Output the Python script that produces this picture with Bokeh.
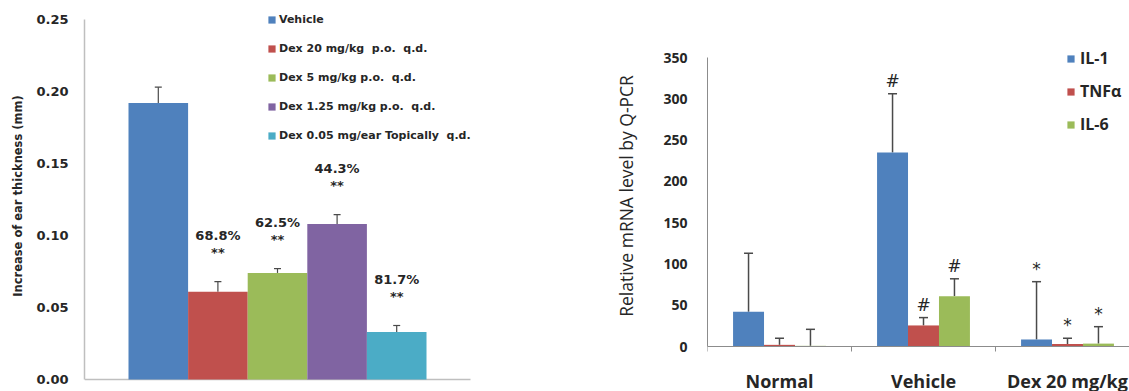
import math
from bokeh.plotting import figure
from bokeh.models import (Range1d, FixedTicker, Legend, LegendItem, Whisker, TeeHead,
                          ColumnDataSource, NumeralTickFormatter, Span, LabelSet)
from bokeh.layouts import row
from bokeh.embed import file_html
from bokeh.resources import INLINE
from bokeh.core.properties import value

# ---------------- data: left panel ----------------
groups = ["Vehicle", "Dex 20 mg/kg  p.o.  q.d.", "Dex 5 mg/kg p.o.  q.d.",
          "Dex 1.25 mg/kg p.o.  q.d.", "Dex 0.05 mg/ear Topically  q.d."]
thickness = [0.192, 0.061, 0.074, 0.108, 0.033]
thickness_err = [0.011, 0.007, 0.003, 0.0065, 0.0045]
pct_labels = ["", "68.8%", "62.5%", "44.3%", "81.7%"]
sig_labels = ["", "**", "**", "**", "**"]
left_ticks = [0.0, 0.05, 0.10, 0.15, 0.20, 0.25]

# ---------------- data: right panel ----------------
categories = ["Normal", "Vehicle", "Dex 20 mg/kg"]
series = ["IL-1", "TNF\u03b1", "IL-6"]
il1 = [42, 235, 8.5]
il1_err = [71, 71, 70]
tnf = [2, 25.5, 3]
tnf_err = [8, 9.5, 7]
il6 = [0.8, 61, 3.5]
il6_err = [20, 21, 20.5]
il1_marks = ["", "#", "*"]
tnf_marks = ["", "#", "*"]
il6_marks = ["", "#", "*"]
right_ticks = [0, 50, 100, 150, 200, 250, 300, 350]

left_colors = ["#4F81BD", "#C0504D", "#9BBB59", "#8064A2", "#4BACC6"]
right_colors = ["#4F81BD", "#C0504D", "#9BBB59"]
TXT = "#262626"
ERR = "#4a4a4a"
AX1 = "#bfbfbf"
AX2 = "#8c8c8c"

H = 391

# ================= LEFT FIGURE =================
ppu1 = 1440.0                      # px per mm-unit on the left axis
ly0 = -12.0 / ppu1                 # 0 sits 12 px above the canvas bottom
ly1 = ly0 + H / ppu1
bar_px = 59.6
lx0 = -0.5 - 44.0 / bar_px
lx_axis_end = 4.5 + 44.0 / bar_px
lx1 = lx0 + (598 - 84) / bar_px
p1 = figure(width=598, height=H, output_backend="svg", toolbar_location=None,
            x_range=Range1d(lx0, lx1), y_range=Range1d(ly0, ly1), x_axis_location=None,
            min_border_left=84, min_border_right=0, min_border_top=0, min_border_bottom=0)
p1.outline_line_color = None
p1.xgrid.visible = False
p1.ygrid.visible = False

p1.segment(x0=[lx0], y0=[0], x1=[lx_axis_end], y1=[0], line_color=AX1, line_width=1.5)

xs = list(range(len(groups)))
items = []
for i in xs:
    r = p1.vbar(x=[i], top=[thickness[i]], width=1.0, fill_color=left_colors[i], line_color=None)
    items.append(LegendItem(label=groups[i], renderers=[r]))

hi1 = [t + e for t, e in zip(thickness, thickness_err)]
src1 = ColumnDataSource(dict(x=xs, lo=thickness, hi=hi1, pct=pct_labels, sig=sig_labels))
p1.add_layout(Whisker(source=src1, base="x", lower="lo", upper="hi", dimension="height",
                      line_color=ERR, line_width=1.2,
                      upper_head=TeeHead(size=7, line_color=ERR, line_width=1.2), lower_head=None))
p1.text(x="x", y="hi", text="sig", source=src1, y_offset=-29, text_align="center",
        text_baseline="middle", text_font=value("DejaVu Sans"), text_font_style="bold",
        text_font_size="13px", text_color=TXT)
p1.text(x="x", y="hi", text="pct", source=src1, y_offset=-46, text_align="center",
        text_baseline="middle", text_font=value("DejaVu Sans"), text_font_style="bold",
        text_font_size="13px", text_color=TXT)

ya = p1.yaxis[0]
ya.ticker = FixedTicker(ticks=left_ticks)
ya.bounds = (0, 0.25)
ya.formatter = NumeralTickFormatter(format="0.00")
ya.major_tick_out = 0
ya.major_tick_in = 0
ya.minor_tick_out = 0
ya.minor_tick_in = 0
ya.axis_line_color = AX1
ya.axis_line_width = 1.5
ya.major_label_standoff = 16
ya.major_label_text_font = "DejaVu Sans"
ya.major_label_text_font_style = "bold"
ya.major_label_text_font_size = "13px"
ya.major_label_text_color = TXT
ya.axis_label = "Increase of ear thickness (mm)"
ya.axis_label_text_font = "DejaVu Sans"
ya.axis_label_text_font_style = "bold"
ya.axis_label_text_font_size = "11.5px"
ya.axis_label_text_color = TXT
ya.axis_label_standoff = 8

leg1 = Legend(items=items, location=(183, 246), padding=0, margin=0, spacing=9,
              glyph_width=9, glyph_height=9, label_height=20, label_standoff=3,
              label_text_font="DejaVu Sans", label_text_font_style="bold",
              label_text_font_size="11px", label_text_color=TXT,
              border_line_color=None, background_fill_alpha=0)
p1.add_layout(leg1)

# ================= RIGHT FIGURE =================
k = 289.0 / 350.0                  # px per unit on the right axis
y0 = -45.0 / k                     # 0 sits 45 px above the canvas bottom
y1 = y0 + H / k
p2 = figure(width=531, height=H, output_backend="svg", toolbar_location=None,
            x_range=Range1d(0, 422.0 / 144.0), y_range=Range1d(y0, y1),
            x_axis_location=None,
            min_border_left=109, min_border_right=0, min_border_top=0, min_border_bottom=0)
p2.outline_line_color = None
p2.xgrid.visible = False
p2.ygrid.visible = False

bw = 0.215
cx = [i + 0.5 for i in range(len(categories))]
vals = [il1, tnf, il6]
errs = [il1_err, tnf_err, il6_err]
marks = [il1_marks, tnf_marks, il6_marks]

p2.add_layout(Span(location=0, dimension="width", line_color=AX2, line_width=1))
p2.ray(x=list(range(len(categories) + 1)), y=[0] * (len(categories) + 1), length=5,
       length_units="screen", angle=-math.pi / 2, line_color=AX2, line_width=1)
p2.ray(x=[0], y=[0], length=5, length_units="screen", angle=math.pi,
       line_color=AX2, line_width=1)
p2.text(x=cx, y=[0] * len(cx), text=categories, y_offset=34, text_align="center",
        text_baseline="middle", text_font=value("Open Sans"), text_font_style="bold",
        text_font_size="18px", text_color=TXT)

items2 = []
for kk in range(len(series)):
    xk = [c + (kk - 1) * bw for c in cx]
    r = p2.vbar(x=xk, top=vals[kk], width=bw, fill_color=right_colors[kk], line_color=None)
    items2.append(LegendItem(label=series[kk], renderers=[r]))
    hik = [v + e for v, e in zip(vals[kk], errs[kk])]
    s = ColumnDataSource(dict(x=xk, lo=vals[kk], hi=hik, m=marks[kk]))
    p2.add_layout(Whisker(source=s, base="x", lower="lo", upper="hi", dimension="height",
                          line_color=ERR, line_width=1.5,
                          upper_head=TeeHead(size=9, line_color=ERR, line_width=1.5),
                          lower_head=None))
    p2.text(x="x", y="hi", text="m", source=s, y_offset=-13, text_align="center",
            text_baseline="middle", text_font=value("DejaVu Sans"),
            text_font_size="17px", text_color=TXT)

ya2 = p2.yaxis[0]
ya2.ticker = FixedTicker(ticks=right_ticks)
ya2.bounds = (0, 350)
ya2.major_tick_out = 0
ya2.major_tick_in = 0
ya2.minor_tick_out = 0
ya2.minor_tick_in = 0
ya2.axis_line_color = AX2
ya2.major_label_standoff = 20
ya2.major_label_text_font = "Open Sans"
ya2.major_label_text_font_style = "bold"
ya2.major_label_text_font_size = "14px"
ya2.major_label_text_color = TXT
ya2.axis_label = "Relative mRNA level by Q-PCR"
ya2.axis_label_text_font = "Open Sans"
ya2.axis_label_text_font_style = "normal"
ya2.axis_label_text_font_size = "17.5px"
ya2.axis_label_text_color = TXT
ya2.axis_label_standoff = 22

leg2 = Legend(items=items2, location=(359, 256), padding=0, margin=0, spacing=11,
              glyph_width=9, glyph_height=9, label_height=20, label_standoff=5,
              label_text_font="Open Sans", label_text_font_style="bold",
              label_text_font_size="16px", label_text_color=TXT,
              border_line_color=None, background_fill_alpha=0)
p2.add_layout(leg2)

layout = row(p1, p2)
open("out.html", "w").write(file_html(layout, INLINE))
